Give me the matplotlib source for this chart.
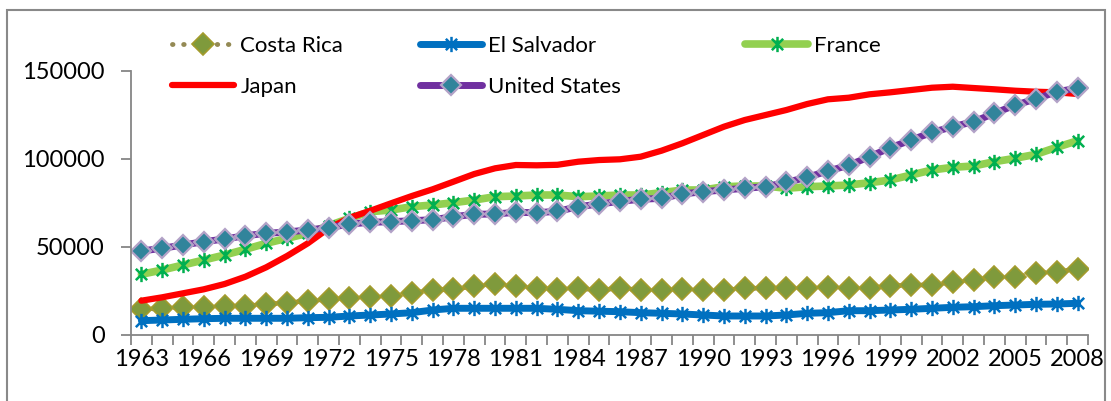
import numpy as np
import matplotlib
matplotlib.use('Agg')
import matplotlib.pyplot as plt
from matplotlib.path import Path
from matplotlib.patches import Rectangle

plt.rcParams['font.family'] = ['Lato', 'DejaVu Sans']

#Data (1963-2008)
years = list(range(1963, 2009))

costa_rica = [14580, 15150, 15720, 16060, 16460, 16630, 17420, 18330, 19470, 20260,
              20830, 21800, 22130, 23660, 25540, 25930, 27810, 28940, 27810, 26500,
              25930, 26500, 25540, 26500, 25540, 25540, 25930, 25540, 25540, 26500,
              26500, 26500, 26840, 27410, 26500, 26840, 27810, 28380, 28380, 30250,
              31210, 32740, 33090, 35010, 35920, 37280]

el_salvador = [8120, 8510, 8910, 9250, 9480, 9480, 9480, 9480, 9820, 10040,
               10780, 11350, 11920, 12660, 14190, 15150, 15150, 15150, 15150, 15150,
               14580, 13790, 13500, 13220, 12660, 12310, 11920, 11350, 10780, 10780,
               10780, 11350, 12310, 12660, 13790, 13790, 14190, 14580, 15150, 15720,
               16060, 16630, 17020, 17420, 17590, 17990]

france = [34440, 36890, 39720, 42560, 45400, 48630, 52040, 54880, 57710, 62030,
          66220, 69970, 70940, 72810, 73780, 75080, 76610, 78490, 78880, 79450,
          79450, 78490, 78880, 79450, 79450, 80750, 82290, 82290, 84160, 84560,
          84560, 83250, 84160, 84560, 85130, 86430, 87960, 90800, 93640, 95170,
          95910, 98350, 100280, 102550, 106520, 110270]

japan = [19470, 21390, 23660, 25930, 28940, 33080, 38420, 44830, 52040, 60550,
         66500, 70500, 74740, 78880, 82690, 87000, 91370, 94600, 96480, 96300,
         96600, 98350, 99300, 99710, 101190, 104590, 108790, 113500, 118210, 122010,
         124850, 127690, 131090, 133760, 134670, 136600, 137730, 139040, 140340, 140910,
         140170, 139440, 138640, 138070, 137730, 136770]

united_states = [47670, 49200, 51075, 52950, 54480, 56350, 57700, 58450, 59590, 60890,
                 62990, 63960, 64300, 64860, 65430, 67130, 68500, 68670, 69630, 69400,
                 70200, 72810, 74340, 75870, 77010, 77580, 80020, 81340, 82290, 83250,
                 84160, 86660, 89490, 93070, 96300, 101200, 106300, 110660, 115000, 118200,
                 121050, 125800, 130500, 133940, 138090, 140000]

label_years = years[::3]
y_ticks = [0, 50000, 100000, 150000]

#Excel style asterisk marker (x plus vertical bar)
star = Path([(-1, -1), (1, 1), (-1, 1), (1, -1), (0, -1.35), (0, 1.35)],
            [Path.MOVETO, Path.LINETO, Path.MOVETO, Path.LINETO, Path.MOVETO, Path.LINETO])

fig = plt.figure(figsize=(11.11, 4.01), dpi=100)
ax = fig.add_axes([0.1179, 0.1646, 0.8614, 0.6591])

ax.plot(years, costa_rica, color='#948A54', lw=3.5, linestyle=(0, (0.1, 2.2)),
        dash_capstyle='round', marker='D', markersize=11, markerfacecolor='#7F9A3C',
        markeredgecolor='#A39B2C', markeredgewidth=1.2, label='Costa Rica')
ax.plot(years, el_salvador, color='#0070C0', lw=5, solid_capstyle='round',
        marker=star, markersize=11, markerfacecolor='none', markeredgecolor='#0070C0',
        markeredgewidth=1.8, label='El Salvador')
ax.plot(years, france, color='#92D050', lw=5.5, solid_capstyle='round',
        marker=star, markersize=11, markerfacecolor='none', markeredgecolor='#00B050',
        markeredgewidth=1.8, label='France')
ax.plot(years, japan, color='#FF0000', lw=4.5, solid_capstyle='round', label='Japan')
ax.plot(years, united_states, color='#7030A0', lw=5, solid_capstyle='round',
        marker='D', markersize=10, markerfacecolor='#31849B', markeredgecolor='#B3A2C7',
        markeredgewidth=1.6, label='United States')

ax.set_xlim(1962.5, 2008.5)
ax.set_ylim(0, 150000)

#tick marks on the category boundaries, labels on every third year
ax.set_xticks(np.arange(1962.5, 2009, 1.0))
ax.set_xticklabels([])
ax.set_xticks(label_years, minor=True)
ax.set_xticklabels([str(y) for y in label_years], minor=True)
ax.tick_params(axis='x', which='major', length=7, width=1.3, color='#868686', direction='out')
ax.tick_params(axis='x', which='minor', length=0, pad=10, labelsize=17)
ax.set_yticks(y_ticks)
ax.set_yticklabels([str(v) for v in y_ticks])
ax.tick_params(axis='y', length=7, width=1.3, color='#868686', direction='out', pad=12, labelsize=17)

for side in ['top', 'right']:
    ax.spines[side].set_visible(False)
for side in ['left', 'bottom']:
    ax.spines[side].set_color('#868686')
    ax.spines[side].set_linewidth(1.3)

#Legend: one legend per column so column positions match the original
h, l = ax.get_legend_handles_labels()
columns = [([0, 3], 0.155), ([1, 4], 0.378), ([2], 0.671)]
legends = []
for idx, xpos in columns:
    leg = fig.legend([h[i] for i in idx], [l[i] for i in idx], frameon=False,
                     loc='upper left', bbox_to_anchor=(xpos, 0.91),
                     fontsize=16, handlelength=2.8, handletextpad=0.27,
                     labelspacing=0.94, borderpad=0, borderaxespad=0, numpoints=1)
    legends.append(leg)

#outer chart border
fig.patches.append(Rectangle((0.006, -0.02), 0.989, 0.995, transform=fig.transFigure,
                             fill=False, edgecolor='#898989', lw=1.5))

fig.savefig('out.png', dpi=100)
